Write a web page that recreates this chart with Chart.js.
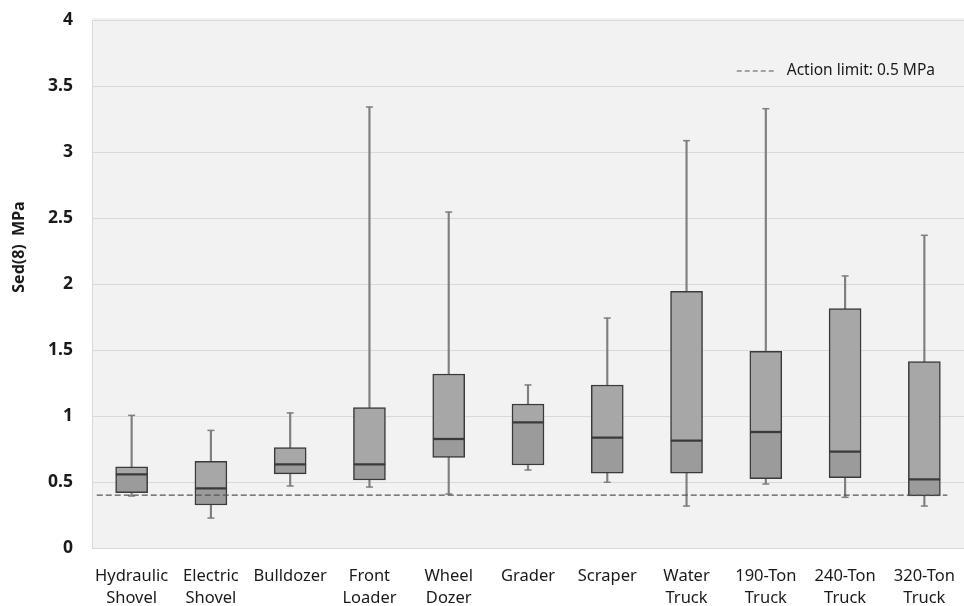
<!DOCTYPE html>
<html>
<head>
<meta charset="utf-8">
<script src="https://cdn.jsdelivr.net/npm/chart.js@4.4.1/dist/chart.umd.min.js"></script>
<style>
  html, body { margin: 0; padding: 0; background: #fff; overflow: hidden; }
  canvas { display: block; }
</style>
</head>
<body>
<canvas id="box-chart" width="964" height="606"></canvas>
<script>
// Categories (two-line labels like the original)
var machines = [['Hydraulic', 'Shovel'], ['Electric', 'Shovel'], 'Bulldozer', ['Front', 'Loader'],
  ['Wheel', 'Dozer'], 'Grader', 'Scraper', ['Water', 'Truck'], ['190-Ton', 'Truck'],
  ['240-Ton', 'Truck'], ['320-Ton', 'Truck']];
// Box plot values (MPa)
var minVals = [0.394, 0.227, 0.470, 0.462, 0.409, 0.591, 0.498, 0.318, 0.485, 0.384, 0.318];
var q1Vals = [0.419, 0.326, 0.561, 0.515, 0.687, 0.629, 0.566, 0.566, 0.525, 0.533, 0.394];
var medianVals = [0.558, 0.452, 0.634, 0.634, 0.826, 0.952, 0.836, 0.813, 0.879, 0.730, 0.520];
var q3Vals = [0.614, 0.657, 0.760, 1.063, 1.318, 1.091, 1.235, 1.945, 1.490, 1.813, 1.412];
var maxVals = [1.005, 0.891, 1.023, 3.341, 2.545, 1.235, 1.742, 3.086, 3.328, 2.061, 2.369];
// Action limit line (drawn at 0.4 in the original) and its span in category units
var limitValue = 0.4;
var limitSpan = [-0.44, 10.29];
var yTicks = [0, 0.5, 1, 1.5, 2, 2.5, 3, 3.5, 4];
var yTitle = 'Sed(8)  MPa';

var pairs = function(a, b) {
  return a.map(function(v, i) { return [v, b[i]]; });
};

var plotBg = {
  id: 'plotBg',
  beforeDraw: function(chart) {
    var a = chart.chartArea;
    var ctx = chart.ctx;
    ctx.save();
    ctx.fillStyle = '#f2f2f2';
    ctx.fillRect(a.left, a.top - 2, a.right - a.left, a.bottom - a.top + 2);
    ctx.restore();
  }
};

// Legend in the top right corner and the y title (sits a bit above centre in the original)
var extras = {
  id: 'extras',
  afterDraw: function(chart) {
    var a = chart.chartArea;
    var ctx = chart.ctx;
    var ds = chart.data.datasets[chart.data.datasets.length - 1];
    var y = a.top + 51;
    var textRight = a.right - 29;
    ctx.save();
    ctx.font = '15.5px "Noto Sans"';
    ctx.textBaseline = 'middle';
    ctx.textAlign = 'right';
    ctx.fillStyle = '#1a1a1a';
    ctx.fillText(ds.label, textRight, y);
    var w = ctx.measureText(ds.label).width;
    var lineEnd = textRight - w - 13;
    ctx.strokeStyle = ds.borderColor;
    ctx.lineWidth = 1;
    ctx.setLineDash([5, 3]);
    ctx.beginPath();
    ctx.moveTo(lineEnd - 37, y);
    ctx.lineTo(lineEnd, y);
    ctx.stroke();
    ctx.restore();

    ctx.save();
    ctx.translate(19, 247);
    ctx.rotate(-Math.PI / 2);
    ctx.font = 'bold 16px "Noto Sans"';
    ctx.textAlign = 'center';
    ctx.textBaseline = 'middle';
    ctx.fillStyle = '#1a1a1a';
    ctx.fillText(yTitle, 0, 0);
    ctx.restore();
  }
};

var whiskerStyle = {
  type: 'bar',
  backgroundColor: '#7f7f7f',
  borderWidth: 0,
  barThickness: 1.5,
  grouped: false,
  order: 4
};
var boxStyle = {
  type: 'bar',
  borderColor: '#3a3a3a',
  borderWidth: 1.5,
  borderSkipped: false,
  barThickness: 32,
  grouped: false,
  order: 3
};
var capStyle = {
  type: 'line',
  showLine: false,
  pointStyle: 'line',
  pointRadius: 3.5,
  pointHoverRadius: 3.5,
  borderColor: '#7f7f7f',
  borderWidth: 1.5,
  order: 2
};

var ctx = document.getElementById('box-chart').getContext('2d');
var boxChart = new Chart(ctx, {
  data: {
    labels: machines,
    datasets: [
      Object.assign({ label: 'Lower whisker', data: pairs(minVals, q1Vals) }, whiskerStyle),
      Object.assign({ label: 'Upper whisker', data: pairs(q3Vals, maxVals) }, whiskerStyle),
      Object.assign({ label: 'Q1-Median', data: pairs(q1Vals, medianVals), backgroundColor: '#9b9b9b' }, boxStyle),
      Object.assign({ label: 'Median-Q3', data: pairs(medianVals, q3Vals), backgroundColor: '#a7a7a7' }, boxStyle),
      Object.assign({ label: 'Min', data: minVals }, capStyle),
      Object.assign({ label: 'Max', data: maxVals }, capStyle),
      {
        type: 'line',
        label: 'Action limit: 0.5 MPa',
        xAxisID: 'xl',
        data: limitSpan.map(function(x) { return { x: x, y: limitValue }; }),
        borderColor: '#555555',
        borderWidth: 1.3,
        borderDash: [6, 3],
        pointRadius: 0,
        order: 1
      }
    ]
  },
  options: {
    responsive: false,
    animation: false,
    layout: { autoPadding: false, padding: { top: 20, right: 0, left: 0, bottom: 0 } },
    plugins: {
      legend: { display: false },
      tooltip: { enabled: false }
    },
    scales: {
      x: {
        type: 'category',
        grid: { display: false, drawTicks: false },
        border: { display: false },
        ticks: {
          color: '#1a1a1a',
          padding: 17,
          maxRotation: 0,
          autoSkip: false,
          font: { family: '"Noto Sans"', size: 16.5, lineHeight: 1.33 }
        },
        afterFit: function(scale) {
          scale.height = 58;
          scale.paddingLeft = 0;
          scale.paddingRight = 0;
        }
      },
      xl: {
        type: 'linear',
        display: false,
        min: -0.5,
        max: 10.5
      },
      y: {
        min: 0,
        max: 4,
        afterBuildTicks: function(scale) {
          scale.ticks = yTicks.map(function(v) { return { value: v }; });
        },
        grid: { color: '#d9d9d9', lineWidth: 1, drawTicks: false },
        border: { color: '#d9d9d9' },
        ticks: {
          color: '#1a1a1a',
          padding: 19,
          callback: function(v) { return String(v); },
          font: { family: '"Noto Sans"', size: 17.5, weight: 'bold' }
        },
        afterFit: function(scale) {
          scale.width = 92;
          scale.paddingTop = 0;
          scale.paddingBottom = 0;
        }
      }
    }
  },
  plugins: [plotBg, extras]
});
</script>
</body>
</html>
